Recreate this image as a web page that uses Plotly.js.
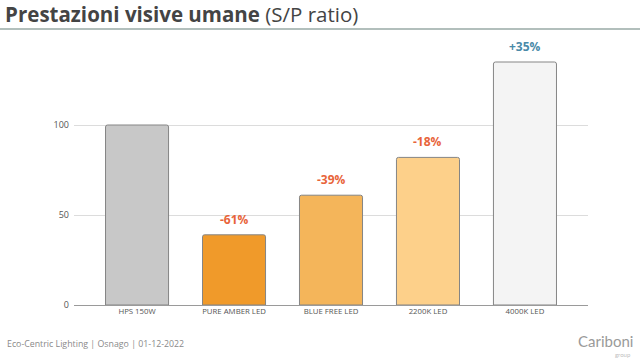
<!DOCTYPE html>
<html>
<head>
<meta charset="utf-8">
<script src="https://cdn.plot.ly/plotly-3.0.1.min.js"></script>
<style>html,body{margin:0;padding:0;background:#fff;}#chart{width:640px;height:362px;}</style>
</head>
<body>
<div id="chart"></div>
<script>
const categories = ['HPS 150W', 'PURE AMBER LED', 'BLUE FREE LED', '2200K LED', '4000K LED'];
const spRatio = [100, 39, 61, 82, 135];
const changeLabels = ['', '-61%', '-39%', '-18%', '+35%'];
const barColors = ['#c8c8c8', '#f09a2a', '#f4b55a', '#fdd08a', '#f4f4f4'];
const labelColors = ['#e8643a', '#e8643a', '#e8643a', '#e8643a', '#4a8aa8'];
const yTicks = [0, 50, 100];

const trace = {
  type: 'bar',
  x: categories,
  y: spRatio,
  width: 0.65,
  marker: {color: barColors, line: {color: '#858585', width: 1}, cornerradius: 2},
  hoverinfo: 'skip'
};

const annotations = categories.map((c, i) => ({
  x: c, y: spRatio[i], xref: 'x', yref: 'y',
  text: '<b>' + changeLabels[i] + '</b>',
  showarrow: false, yanchor: 'bottom', yshift: 5,
  font: {family: 'Open Sans, sans-serif', size: 12, color: labelColors[i]}
})).filter(a => a.text !== '<b></b>');

annotations.push({
  xref: 'paper', yref: 'paper', x: -0.134, y: -0.145, xanchor: 'left', yanchor: 'middle',
  text: 'Eco-Centric Lighting | Osnago | 01-12-2022', showarrow: false,
  font: {family: 'Open Sans, sans-serif', size: 8.8, color: '#8a8a8a'}
});
annotations.push({
  xref: 'paper', yref: 'paper', x: 1.092, y: -0.132, xanchor: 'right', yanchor: 'middle',
  text: 'Cariboni', showarrow: false,
  font: {family: 'Lato, sans-serif', size: 15, color: '#9a9a9a'}
});
annotations.push({
  xref: 'paper', yref: 'paper', x: 1.088, y: -0.182, xanchor: 'right', yanchor: 'middle',
  text: 'group', showarrow: false,
  font: {family: 'Lato, sans-serif', size: 6, color: '#c0c0c0'}
});

const layout = {
  width: 640, height: 362,
  margin: {l: 74, r: 52, t: 35, b: 57},
  paper_bgcolor: '#fff', plot_bgcolor: '#fff',
  showlegend: false,
  title: {
    text: '<b>Prestazioni visive umane</b> (S/P ratio)',
    x: 0.008, xanchor: 'left', xref: 'container',
    y: 0.958, yanchor: 'middle', yref: 'container',
    font: {family: 'Open Sans, sans-serif', size: 20.5, color: '#444'}
  },
  xaxis: {
    range: [-0.65, 4.65], showgrid: false, zeroline: false, showline: false,
    ticks: '', tickfont: {family: 'Open Sans, sans-serif', size: 7.8, color: '#555'},
    fixedrange: true
  },
  yaxis: {
    range: [0, 150], tickvals: yTicks, ticktext: yTicks.map(String),
    showgrid: true, gridcolor: '#dcdcdc', gridwidth: 1,
    zeroline: true, zerolinecolor: '#9a9a9a', zerolinewidth: 1,
    showline: false, ticks: '', ticklabelstandoff: 4,
    tickfont: {family: 'Open Sans, sans-serif', size: 9, color: '#555'}
  },
  shapes: [{
    type: 'line', xref: 'paper', yref: 'paper',
    x0: -0.144, x1: 1.102, y0: 1.022, y1: 1.022,
    line: {color: '#98aaa6', width: 1.5}
  }],
  annotations: annotations
};

Plotly.newPlot('chart', [trace], layout, {displayModeBar: false, staticPlot: true});
</script>
</body>
</html>
